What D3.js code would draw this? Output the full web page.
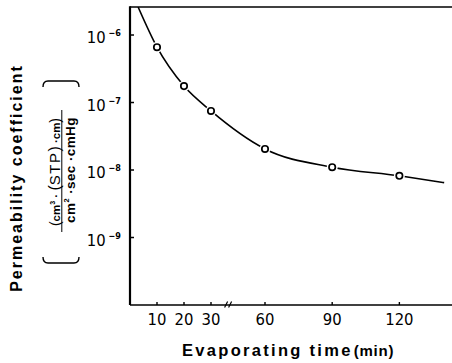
<!DOCTYPE html>
<html>
<head>
<meta charset="utf-8">
<script src="https://cdn.jsdelivr.net/npm/d3@7"></script>
<style>
  html, body { margin: 0; padding: 0; background: #fff; }
  svg { display: block; }
  .narrow { font-family: "Liberation Sans Narrow", "DejaVu Sans Condensed", "Arial Narrow", sans-serif; }
  .title { font-family: "Liberation Sans", Arial, sans-serif; font-weight: bold; }
</style>
</head>
<body>
<script>
// Measured permeability coefficient vs. evaporating time
const times = [10, 20, 30, 60, 90, 120];
const permeability = [6.6e-7, 1.75e-7, 7.5e-8, 2.05e-8, 1.1e-8, 8.2e-9];

// Smooth trend line through the measurements
const fitTimes = [3.0, 10, 20, 30, 60, 90, 120, 140];
const fitValues = [2.6e-6, 6.6e-7, 1.75e-7, 7.5e-8, 2.05e-8, 1.1e-8, 8.2e-9, 6.5e-9];

// Axis ticks
const xTicks = [10, 20, 30, 60, 90, 120];
const yTicks = [1e-6, 1e-7, 1e-8, 1e-9];
const yTickExponents = ["−6", "−7", "−8", "−9"];

const W = 452, H = 363;
const mLeft = 130, mTop = 7, mBottom = 305, mRight = 452;

const svg = d3.select("body").append("svg")
  .attr("width", W).attr("height", H);

// Broken time axis: 0–30 min on a wider scale, then 60+ min compressed
const x = d3.scaleLinear()
  .domain([0, 30, 60, 143.5])
  .range([mLeft, 211, 265, mRight]);

const y = d3.scaleLog()
  .domain([1e-10, Math.pow(10, -5.585)])
  .range([mBottom, mTop]);

svg.append("defs").append("clipPath").attr("id", "plot")
  .append("rect").attr("x", mLeft).attr("y", mTop)
  .attr("width", mRight - mLeft).attr("height", mBottom - mTop);

// Frame: top edge, left and bottom axes
svg.append("line").attr("x1", mLeft).attr("x2", mRight).attr("y1", mTop).attr("y2", mTop)
  .attr("stroke", "#000").attr("stroke-width", 1.6);
svg.append("line").attr("x1", mLeft).attr("x2", mLeft).attr("y1", mTop - 0.8).attr("y2", mBottom)
  .attr("stroke", "#000").attr("stroke-width", 2.2);
svg.append("line").attr("x1", mLeft).attr("x2", mRight).attr("y1", mBottom).attr("y2", mBottom)
  .attr("stroke", "#000").attr("stroke-width", 1.5);

// Y ticks (inward) and labels 10^n
svg.selectAll(".ytick").data(yTicks).join("line")
  .attr("x1", mLeft).attr("x2", mLeft + 4)
  .attr("y1", d => y(d)).attr("y2", d => y(d))
  .attr("stroke", "#000").attr("stroke-width", 1.5);

const ylab = svg.selectAll(".ylab").data(yTicks).join("text")
  .attr("class", "narrow")
  .attr("text-anchor", "end")
  .attr("x", 121)
  .attr("y", d => y(d) + 8)
  .attr("font-size", 16.5)
  .attr("fill", "#000");
ylab.append("tspan").text("10");
ylab.append("tspan")
  .attr("dx", 3)
  .attr("dy", -7)
  .attr("font-size", 9)
  .attr("font-weight", "bold")
  .text((d, i) => yTickExponents[i]);

// X ticks (inward) and labels
svg.selectAll(".xtick").data(xTicks).join("line")
  .attr("x1", d => x(d)).attr("x2", d => x(d))
  .attr("y1", mBottom).attr("y2", mBottom - 3)
  .attr("stroke", "#000").attr("stroke-width", 1.4);

svg.selectAll(".xlab").data(xTicks).join("text")
  .attr("class", "narrow")
  .attr("text-anchor", "middle")
  .attr("x", d => x(d))
  .attr("y", 325)
  .attr("font-size", 16.5)
  .attr("fill", "#000")
  .text(d => d);

// Axis break marker between 30 and 60 min
const brk = x(39.5);
[-2, 2].forEach(o => {
  svg.append("line")
    .attr("x1", brk + o - 1.5).attr("y1", mBottom + 2.5)
    .attr("x2", brk + o + 1.5).attr("y2", mBottom - 3.5)
    .attr("stroke", "#000").attr("stroke-width", 1.2);
});

// Trend line
const line = d3.line()
  .x(d => x(d[0]))
  .y(d => y(d[1]))
  .curve(d3.curveMonotoneX);

svg.append("path")
  .attr("clip-path", "url(#plot)")
  .attr("d", line(fitTimes.map((t, i) => [t, fitValues[i]])))
  .attr("fill", "none")
  .attr("stroke", "#000")
  .attr("stroke-width", 1.6);

// Measured points: open circles with a small white gap
const pts = times.map((t, i) => [t, permeability[i]]);
svg.selectAll(".halo").data(pts).join("circle")
  .attr("cx", d => x(d[0])).attr("cy", d => y(d[1]))
  .attr("r", 5.5).attr("fill", "#fff");
svg.selectAll(".pt").data(pts).join("circle")
  .attr("cx", d => x(d[0])).attr("cy", d => y(d[1]))
  .attr("r", 3.2).attr("fill", "#fff")
  .attr("stroke", "#000").attr("stroke-width", 1.7);

// X axis title
const xt = svg.append("text")
  .attr("class", "title")
  .attr("x", 182).attr("y", 356)
  .attr("fill", "#000");
xt.append("tspan").attr("font-size", 16.5).attr("letter-spacing", 2.3).text("Evaporating time");
xt.append("tspan").attr("font-size", 15).attr("letter-spacing", 0.8).attr("dx", 1).text("(min)");

// Y axis title
svg.append("text")
  .attr("class", "title")
  .attr("transform", "translate(22,178) rotate(-90)")
  .attr("text-anchor", "middle")
  .attr("font-size", 16)
  .attr("letter-spacing", 2.0)
  .attr("fill", "#000")
  .text("Permeability coefficient");

// Units as a bracketed fraction
const u = svg.append("g").attr("transform", "translate(60,172) rotate(-90)");
const num = u.append("text")
  .attr("class", "title")
  .attr("text-anchor", "middle")
  .attr("x", 0).attr("y", -0.5)
  .attr("font-size", 11.5)
  .attr("fill", "#000");
num.append("tspan").attr("font-size", 14).attr("font-weight", "normal").text("(");
num.append("tspan").text("cm");
num.append("tspan").attr("font-size", 7).attr("dy", -5).text("3");
num.append("tspan").attr("dy", 5).text(" · ");
num.append("tspan").attr("font-size", 16).attr("font-weight", "normal").text("(");
num.append("tspan").attr("font-size", 15).attr("font-weight", "normal").attr("letter-spacing", 1.5).text("STP");
num.append("tspan").attr("font-size", 16).attr("font-weight", "normal").text(")");
num.append("tspan").text(" ·cm");
num.append("tspan").attr("font-size", 14).attr("font-weight", "normal").text(")");

u.append("line").attr("x1", -60).attr("x2", 62).attr("y1", 1.8).attr("y2", 1.8)
  .attr("stroke", "#000").attr("stroke-width", 1);

const den = u.append("text")
  .attr("class", "title")
  .attr("text-anchor", "middle")
  .attr("x", 2).attr("y", 15)
  .attr("font-size", 13.5)
  .attr("letter-spacing", 0.4)
  .attr("fill", "#000");
den.append("tspan").text("cm");
den.append("tspan").attr("font-size", 7.5).attr("dy", -6).text("2");
den.append("tspan").attr("dy", 6).text(" ·sec ·cmHg");

// Large parentheses around the fraction
const paren = (sx) => {
  const xe = 91 * sx, xi = 85 * sx;
  return `M${xi},-17 Q${xe},-17 ${xe},-12 L${xe},14 Q${xe},19 ${xi},19`;
};
[-1, 1].forEach(s => {
  u.append("path").attr("d", paren(s))
    .attr("fill", "none").attr("stroke", "#000").attr("stroke-width", 1.4);
});
</script>
</body>
</html>
